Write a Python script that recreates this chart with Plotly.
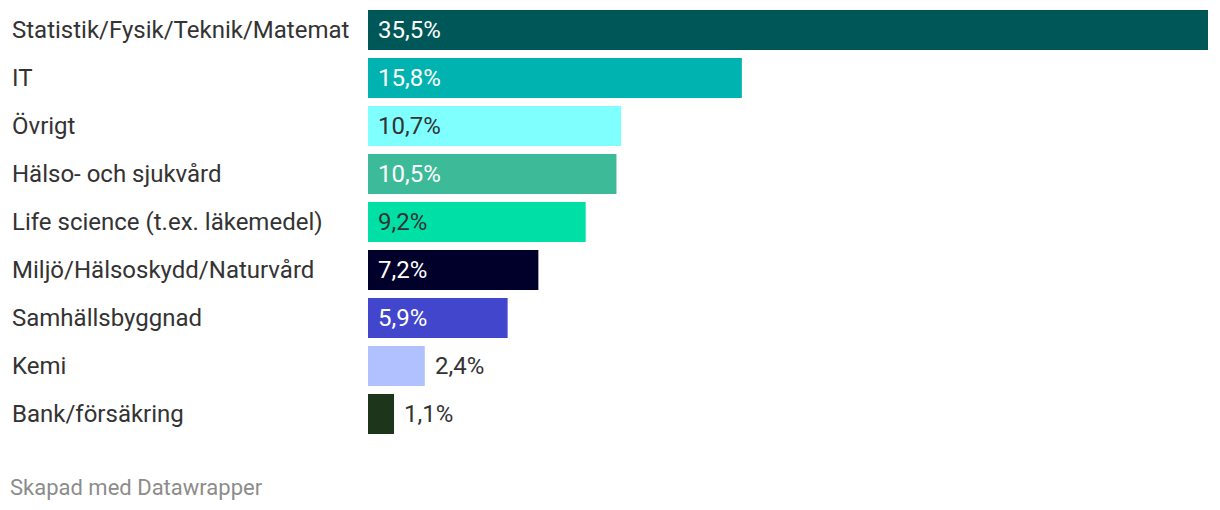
import plotly.graph_objects as go

categories = ["Statistik/Fysik/Teknik/Matemat", "IT", "Övrigt", "Hälso- och sjukvård",
              "Life science (t.ex. läkemedel)", "Miljö/Hälsoskydd/Naturvård",
              "Samhällsbyggnad", "Kemi", "Bank/försäkring"]
values = [35.5, 15.8, 10.7, 10.5, 9.2, 7.2, 5.9, 2.4, 1.1]
value_labels = ["35,5%", "15,8%", "10,7%", "10,5%", "9,2%", "7,2%", "5,9%", "2,4%", "1,1%"]
colors = ["#005757", "#00B3B0", "#80FFFF", "#3DBA98", "#00E0A6", "#00002A",
          "#4146CD", "#B1C1FF", "#1D351A"]
label_colors = ["#FFFFFF", "#FFFFFF", "#333333", "#FFFFFF", "#333333", "#FFFFFF",
                "#FFFFFF", "#333333", "#333333"]

# page body has an 8px margin, so the figure is offset by (8, 8)
OFF = 8
W, H = 1220 - OFF, 510 - OFF
ML, MR, MT = 368 - OFF, 12, 0
plot_h = 9 * 48
MB = H - MT - plot_h
plot_w = W - ML - MR
n = len(categories)
shift = 2 / 48  # move bars up 2px

fig = go.Figure(go.Bar(
    x=values, y=categories, orientation="h",
    marker=dict(color=colors, line=dict(width=0)),
    hoverinfo="skip",
))

annotations = []
for cat, v, lab, lc in zip(categories, values, value_labels, label_colors):
    annotations.append(dict(
        x=-(ML - 10 + OFF) / plot_w, xref="paper", y=cat, yref="y",
        text=cat, showarrow=False, xanchor="left",
        font=dict(family="Roboto", size=24, color="#333333"),
    ))
    inside = v > 3
    annotations.append(dict(
        x=0 if inside else v, xref="x", y=cat, yref="y",
        text=lab, showarrow=False, xanchor="left", xshift=8,
        font=dict(family="Roboto", size=24, color=lc),
    ))
annotations.append(dict(
    x=-(ML - 8 + OFF) / plot_w, xref="paper",
    y=(H - MB - (487 - OFF)) / plot_h, yref="paper",
    xanchor="left", yanchor="middle", showarrow=False,
    text="Skapad med Datawrapper",
    font=dict(family="Roboto", size=22, color="#8C8C8C"),
))

fig.update_layout(
    width=W, height=H,
    margin=dict(l=ML, r=MR, t=MT, b=MB, pad=0),
    paper_bgcolor="white", plot_bgcolor="white",
    bargap=8 / 48,
    showlegend=False,
    xaxis=dict(range=[0, 35.5], visible=False, fixedrange=True),
    yaxis=dict(range=[n - 0.5 + shift, -0.5 + shift], showticklabels=False,
               showgrid=False, zeroline=False, ticks="", fixedrange=True),
    annotations=annotations,
)

fig.write_html("out.html")
